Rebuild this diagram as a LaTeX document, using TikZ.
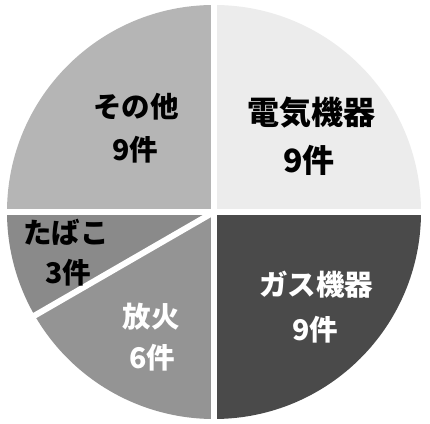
\documentclass[tikz,border=0pt]{standalone}
\usepackage{fontspec}
\newfontfamily\jp{Noto Sans CJK JP}
\definecolor{cElec}{gray}{0.925}
\definecolor{cOther}{gray}{0.71}
\definecolor{cTob}{gray}{0.54}
\definecolor{cArson}{gray}{0.58}
\definecolor{cGas}{gray}{0.29}
\begin{document}
\begin{tikzpicture}[x=1pt,y=1pt,
  lbl/.style={font=\jp\bfseries\fontsize{28.5}{34}\selectfont, inner sep=0pt, anchor=center},
  lblbig/.style={font=\jp\bfseries\fontsize{32}{38}\selectfont, inner sep=0pt, anchor=center},
  sep/.style={white, line width=6pt}]
\useasboundingbox (0,0) rectangle (430,423);
\fill[white] (0,0) rectangle (430,423);
\coordinate (c) at (214,211);
\def\R{207}
% slices
\fill[cElec]  (c) -- ++(0:\R)   arc[start angle=0,   end angle=90,  radius=\R] -- cycle;
\fill[cOther] (c) -- ++(90:\R)  arc[start angle=90,  end angle=180, radius=\R] -- cycle;
\fill[cTob]   (c) -- ++(180:\R) arc[start angle=180, end angle=210, radius=\R] -- cycle;
\fill[cArson] (c) -- ++(210:\R) arc[start angle=210, end angle=270, radius=\R] -- cycle;
\fill[cGas]   (c) -- ++(270:\R) arc[start angle=270, end angle=360, radius=\R] -- cycle;
% separators
\foreach \a in {0,90,180,210,270} \draw[sep] (c) -- ++(\a:\R+6);
% labels
\node[lblbig] (elec) at (311,310) {電気機器};
\node[lblbig] (elecn) at (309,263) {9件};
\node[lbl] (other) at (136,316) {その他};
\node[lbl] (othern) at (135,273) {9件};
\node[lbl] (tob) at (66,191) {たばこ};
\node[lbl] (tobn) at (68,150) {3件};
\node[lbl, text=white] (gas) at (316,138) {ガス機器};
\node[lbl, text=white] (gasn) at (315,93) {9件};
\node[lbl, text=white] (arson) at (151,106) {放火};
\node[lbl, text=white] (arsonn) at (152,65) {6件};
\end{tikzpicture}
\end{document}
